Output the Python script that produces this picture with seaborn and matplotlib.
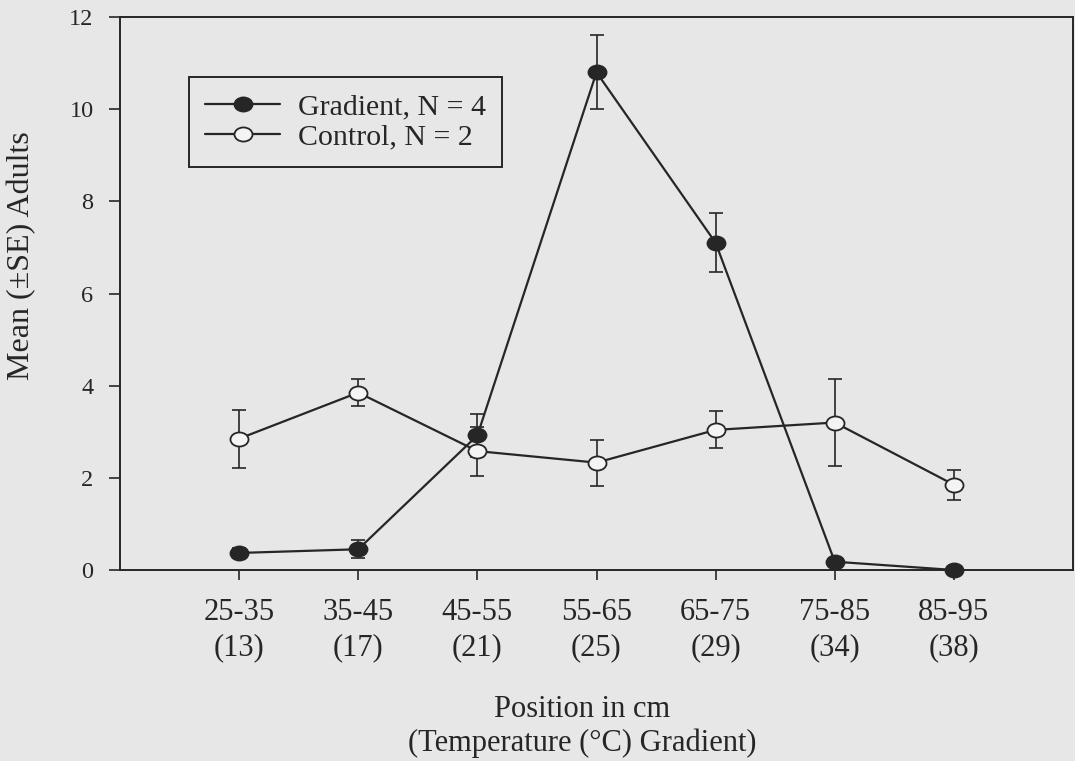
import numpy as np
import pandas as pd
import matplotlib
matplotlib.use("Agg")
import matplotlib.pyplot as plt
from matplotlib.path import Path
from matplotlib.transforms import Affine2D
from matplotlib.lines import Line2D
import seaborn as sns

# Position bands along the gradient and the temperature at each band
positions = ["25-35", "35-45", "45-55", "55-65", "65-75", "75-85", "85-95"]
temperatures = ["13", "17", "21", "25", "29", "34", "38"]

# Mean number of adults (and standard error) per band
gradient_mean = [0.37, 0.45, 2.92, 10.80, 7.10, 0.18, 0.0]
gradient_se = [0.10, 0.20, 0.47, 0.80, 0.64, 0.05, 0.0]
control_mean = [2.85, 3.85, 2.58, 2.33, 3.04, 3.20, 1.85]
control_se = [0.63, 0.29, 0.53, 0.50, 0.40, 0.95, 0.33]

series_labels = ["Gradient, N = 4", "Control, N = 2"]

ink = "#262626"
paper = "#e7e7e7"

rows = []
for i, p in enumerate(positions):
    rows.append({"band": p, "x": i, "mean": gradient_mean[i], "se": gradient_se[i], "group": series_labels[0]})
    rows.append({"band": p, "x": i, "mean": control_mean[i], "se": control_se[i], "group": series_labels[1]})
df = pd.DataFrame(rows)

sns.set_theme(style="ticks")
plt.rcParams["font.family"] = ["Liberation Serif", "DejaVu Serif"]
plt.rcParams["text.color"] = ink
plt.rcParams["axes.labelcolor"] = ink
plt.rcParams["xtick.color"] = ink
plt.rcParams["ytick.color"] = ink

# slightly flattened circle used as the point marker
ellipse = Path.unit_circle().transformed(Affine2D().scale(1.0, 0.78))

fig = plt.figure(figsize=(10.75, 7.61), dpi=100, facecolor=paper)
ax = fig.add_axes([120 / 1075, 1 - 570 / 761, (1073 - 120) / 1075, (570 - 17) / 761])
ax.set_facecolor(paper)

styles = {
    series_labels[0]: dict(mfc=ink, z=3),
    series_labels[1]: dict(mfc="#f4f4f4", z=4),
}

handles = []
for label in series_labels:
    sub = df[df["group"] == label]
    st = styles[label]
    ax.errorbar(sub["x"], sub["mean"], yerr=sub["se"], fmt="none",
                ecolor=ink, elinewidth=1.2, capsize=5, capthick=1.2,
                zorder=st["z"] - 0.5, clip_on=False)
    sns.lineplot(data=sub, x="x", y="mean", ax=ax, color=ink, linewidth=1.6,
                 marker=ellipse, markersize=13, markerfacecolor=st["mfc"],
                 markeredgecolor=ink, markeredgewidth=1.3, zorder=st["z"],
                 clip_on=False, legend=False, errorbar=None)
    handles.append(Line2D([], [], color=ink, linewidth=1.6, marker=ellipse,
                          markersize=13, markerfacecolor=st["mfc"],
                          markeredgecolor=ink, markeredgewidth=1.3, label=label))

ax.set_xlim(-1, 7)
ax.set_ylim(0, 12)
ax.set_xticks(range(len(positions)))
ax.set_xticklabels([f"{p}\n({t})" for p, t in zip(positions, temperatures)],
                   fontsize=22, linespacing=1.3)
ax.set_yticks(np.arange(0, 13, 2))
ax.set_yticklabels([str(v) for v in range(0, 13, 2)], fontsize=17.5)
ax.tick_params(axis="x", direction="out", length=7, width=1.2, pad=13)
ax.tick_params(axis="y", direction="out", length=8, width=1.2, pad=11)

for side in ["left", "bottom", "top", "right"]:
    ax.spines[side].set_visible(True)
    ax.spines[side].set_color(ink)
    ax.spines[side].set_linewidth(1.4)

ax.set_xlabel("Position in cm\n(Temperature (°C) Gradient)", fontsize=22, linespacing=1.18)
ax.xaxis.set_label_coords(0.485, -0.226)
ax.set_ylabel("Mean (±SE) Adults", fontsize=23)
ax.yaxis.set_label_coords(-0.088, 0.568)

leg = ax.legend(handles=handles, loc="upper left", bbox_to_anchor=(0.0724, 0.8915),
                borderaxespad=0, fontsize=21.5, handlelength=2.5, handletextpad=0.6,
                borderpad=0.55, labelspacing=0.12, fancybox=False, framealpha=1,
                facecolor=paper, edgecolor=ink)
leg.get_frame().set_linewidth(1.4)

fig.savefig("out.png", dpi=100, facecolor=paper)
